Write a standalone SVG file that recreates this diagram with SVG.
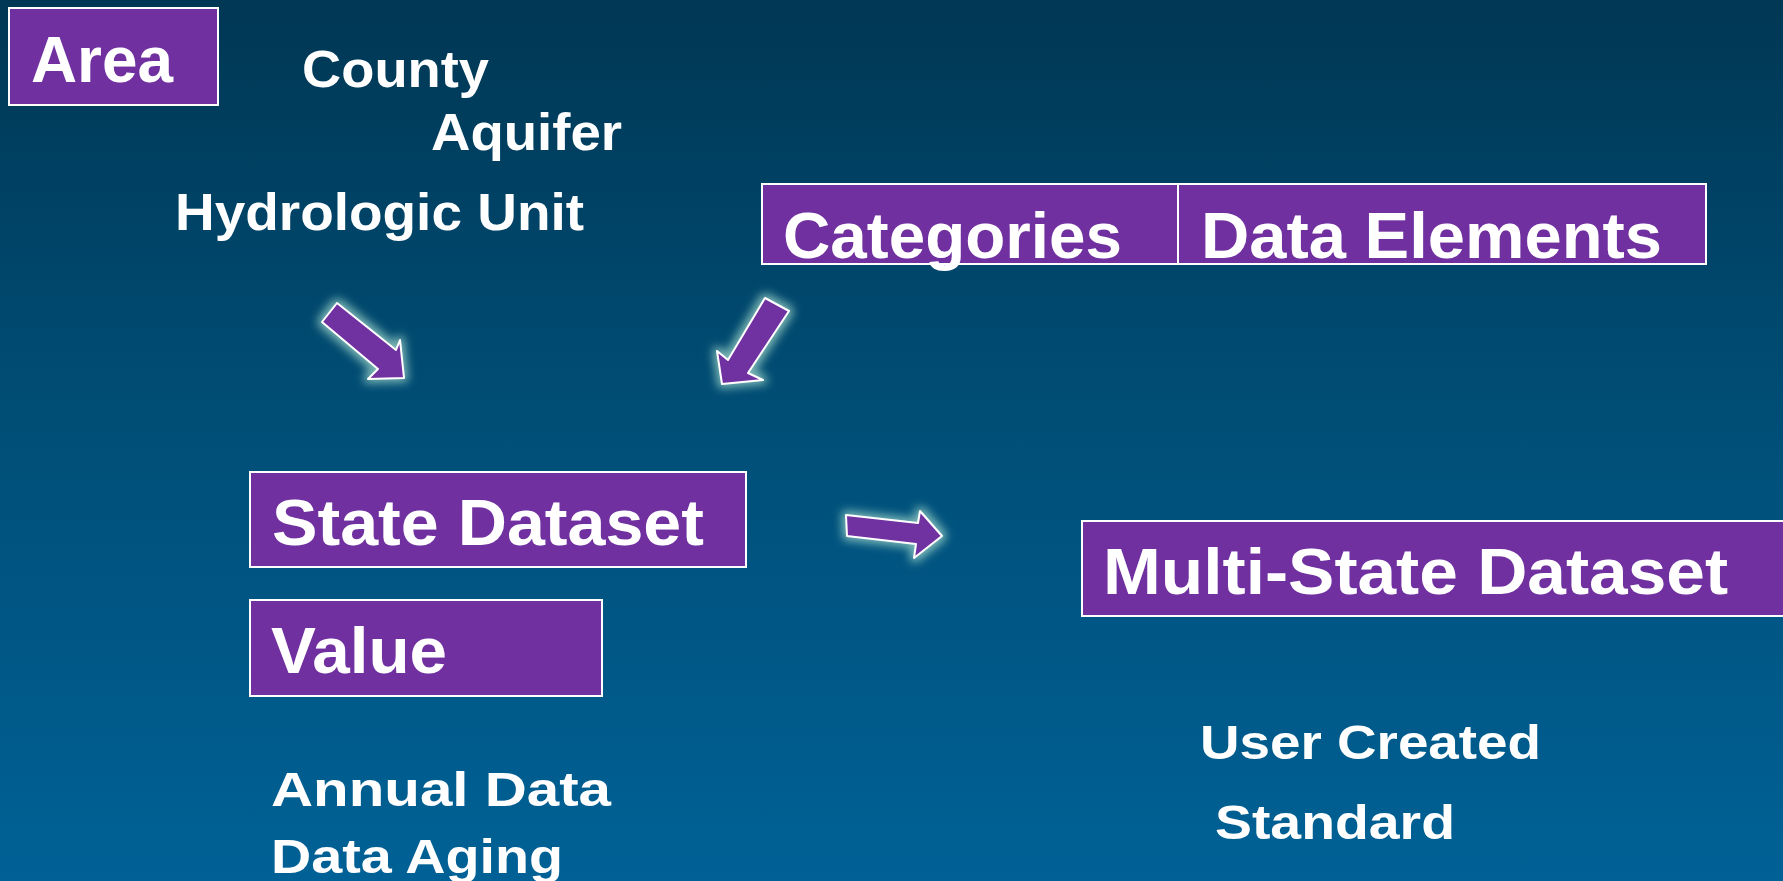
<svg xmlns="http://www.w3.org/2000/svg" width="1783" height="881" viewBox="0 0 1783 881">
  <defs>
    <linearGradient id="bg" x1="0" y1="0" x2="0" y2="1">
      <stop offset="0" stop-color="#003754"/>
      <stop offset="0.5" stop-color="#004f78"/>
      <stop offset="1" stop-color="#006196"/>
    </linearGradient>
    <filter id="glow" x="-30%" y="-30%" width="160%" height="160%">
      <feMorphology in="SourceAlpha" operator="dilate" radius="3" result="d"/>
      <feGaussianBlur in="d" stdDeviation="5" result="b"/>
      <feFlood flood-color="#a6dccb" flood-opacity="0.75"/>
      <feComposite in2="b" operator="in" result="g"/>
      <feMerge>
        <feMergeNode in="g"/>
        <feMergeNode in="SourceGraphic"/>
      </feMerge>
    </filter>
  </defs>
  <style>
    .box { fill: #7030a0; stroke: #ffffff; stroke-width: 2; }
    .t { font-family: "Liberation Sans", Arial, sans-serif; font-weight: bold; fill: #ffffff; }
    .big { font-size: 64px; }
    .mid { font-size: 52px; }
    .sm { font-size: 49px; }
    .arrow { fill: #7030a0; stroke: #ffffff; stroke-width: 2; stroke-linejoin: round; filter: url(#glow); }
  </style>
  <rect x="0" y="0" width="1783" height="881" fill="url(#bg)"/>

  <g id="area">
    <rect class="box" x="9" y="8" width="209" height="97"/>
    <text class="t big" x="31" y="82" textLength="142" lengthAdjust="spacingAndGlyphs">Area</text>
  </g>
  <g id="area-types">
    <text class="t mid" x="302" y="87" textLength="187" lengthAdjust="spacingAndGlyphs">County</text>
    <text class="t mid" x="431" y="150" textLength="191" lengthAdjust="spacingAndGlyphs">Aquifer</text>
    <text class="t mid" x="175" y="230" textLength="409" lengthAdjust="spacingAndGlyphs">Hydrologic Unit</text>
  </g>

  <g id="categories">
    <rect class="box" x="762" y="184" width="416" height="80"/>
    <text class="t big" x="783" y="258" textLength="339" lengthAdjust="spacingAndGlyphs">Categories</text>
  </g>
  <g id="data-elements">
    <rect class="box" x="1178" y="184" width="528" height="80"/>
    <text class="t big" x="1201" y="258" textLength="461" lengthAdjust="spacingAndGlyphs">Data Elements</text>
  </g>

  <g id="state-dataset">
    <rect class="box" x="250" y="472" width="496" height="95"/>
    <text class="t big" x="272" y="545" textLength="432" lengthAdjust="spacingAndGlyphs">State Dataset</text>
  </g>
  <g id="value">
    <rect class="box" x="250" y="600" width="352" height="96"/>
    <text class="t big" x="271" y="673" textLength="176" lengthAdjust="spacingAndGlyphs">Value</text>
  </g>
  <g id="value-types">
    <text class="t sm" x="271" y="806" textLength="340" lengthAdjust="spacingAndGlyphs">Annual  Data</text>
    <text class="t sm" x="271" y="873" textLength="292" lengthAdjust="spacingAndGlyphs">Data Aging</text>
  </g>

  <g id="multi-state-dataset">
    <rect class="box" x="1082" y="521" width="710" height="95"/>
    <text class="t big" x="1103" y="594" textLength="625" lengthAdjust="spacingAndGlyphs">Multi-State Dataset</text>
  </g>
  <g id="multi-state-types">
    <text class="t sm" x="1200" y="759" textLength="341" lengthAdjust="spacingAndGlyphs">User Created</text>
    <text class="t sm" x="1215" y="839" textLength="240" lengthAdjust="spacingAndGlyphs">Standard</text>
  </g>

  <g id="connectors">
    <polygon class="arrow" points="322,322 337,303 396,350 400,340 404,378 368,379 378,369"/>
    <polygon class="arrow" points="765,298 789,311 748,373 763,380 722,384 717,351 728,360"/>
    <polygon class="arrow" points="846,515 918,523 920,511 942,536 914,558 916,544 847,536"/>
  </g>
</svg>
